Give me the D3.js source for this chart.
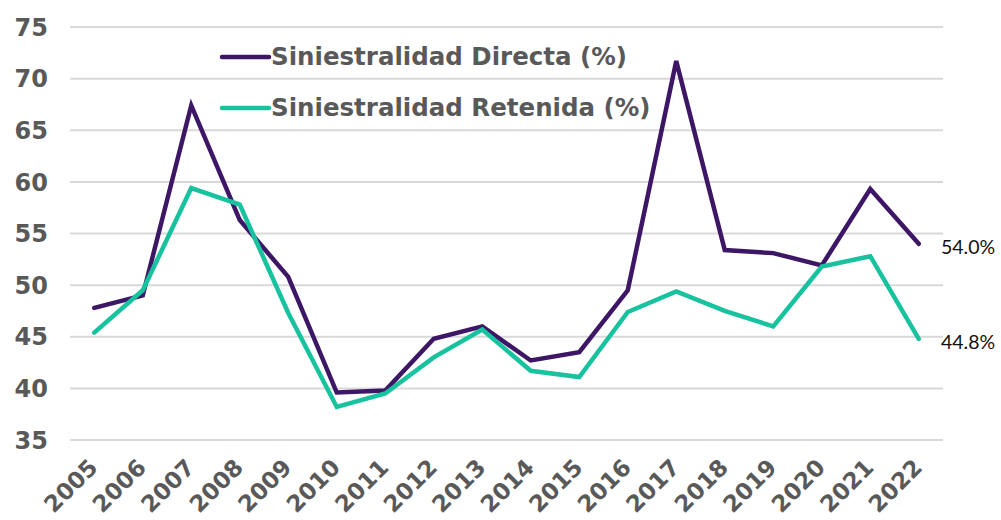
<!DOCTYPE html>
<html>
<head>
<meta charset="utf-8">
<script src="https://cdn.jsdelivr.net/npm/d3@7"></script>
<style>
  body { margin: 0; background: #fff; }
  .ylab, .xlab, .leg { font-family: "DejaVu Sans", sans-serif; font-weight: bold; fill: #595959; }
</style>
</head>
<body>
<script>
// Data
var years = ["2005","2006","2007","2008","2009","2010","2011","2012","2013","2014","2015","2016","2017","2018","2019","2020","2021","2022"];
var directa = [47.8, 49.0, 67.4, 56.3, 50.8, 39.6, 39.8, 44.8, 46.0, 42.7, 43.5, 49.5, 71.7, 53.4, 53.1, 51.9, 59.3, 54.0];
var retenida = [45.4, 49.5, 59.4, 57.8, 47.3, 38.2, 39.5, 43.0, 45.7, 41.7, 41.1, 47.4, 49.4, 47.5, 46.0, 51.8, 52.8, 44.8];
var yTicks = [35, 40, 45, 50, 55, 60, 65, 70, 75];
var seriesNames = ["Siniestralidad Directa (%)", "Siniestralidad Retenida (%)"];
var colors = ["#3d1766", "#17c29e"];

let w = 1001;
let h = 520;
let plotLeft = 70, plotRight = 943, plotTop = 27, plotBottom = 440;

var svg = d3.select("body")
  .append("svg")
  .attr("width", w)
  .attr("height", h);

let xScale = d3.scaleBand()
  .domain(years)
  .range([plotLeft, plotRight]);

let yScale = d3.scaleLinear()
  .domain([35, 75])
  .range([plotBottom, plotTop]);

// gridlines
svg.selectAll("line.grid")
  .data(yTicks)
  .enter()
  .append("line")
  .attr("class", "grid")
  .attr("x1", plotLeft)
  .attr("x2", plotRight)
  .attr("y1", function(d){ return yScale(d); })
  .attr("y2", function(d){ return yScale(d); })
  .attr("stroke", "#d9d9d9")
  .attr("stroke-width", 2);

// y labels
svg.selectAll("text.ylab")
  .data(yTicks)
  .enter()
  .append("text")
  .attr("class", "ylab")
  .attr("x", 48)
  .attr("y", function(d){ return yScale(d); })
  .attr("dy", "0.36em")
  .attr("text-anchor", "end")
  .attr("font-size", "24px")
  .text(function(d){ return d; });

// x labels, rotated
svg.selectAll("text.xlab")
  .data(years)
  .enter()
  .append("text")
  .attr("class", "xlab")
  .attr("transform", function(d){
    return "translate(" + (xScale(d) + xScale.bandwidth() / 2 - 1) + "," + 463 + ") rotate(-45)";
  })
  .attr("text-anchor", "end")
  .attr("dy", "0.36em")
  .attr("font-size", "23px")
  .text(function(d){ return d; });

// lines
let line = d3.line()
  .x(function(d, i){ return xScale(years[i]) + xScale.bandwidth() / 2; })
  .y(function(d){ return yScale(d); });

[directa, retenida].forEach(function(s, k){
  svg.append("path")
    .datum(s)
    .attr("d", line)
    .attr("fill", "none")
    .attr("stroke", colors[k])
    .attr("stroke-width", 4.5)
    .attr("stroke-linejoin", "miter")
    .attr("stroke-linecap", "round");
});

// end labels
[directa, retenida].forEach(function(s){
  var v = s[s.length - 1];
  svg.append("text")
    .attr("x", 941)
    .attr("y", yScale(v) + 3)
    .attr("dy", "0.36em")
    .attr("font-family", "Lato, sans-serif")
    .attr("font-size", "19.5px")
    .attr("fill", "#111")
    .text(v.toFixed(1) + "%");
});

// legend
seriesNames.forEach(function(name, k){
  var ly = 57 + k * 51;
  svg.append("line")
    .attr("x1", 222).attr("x2", 269)
    .attr("y1", ly).attr("y2", ly)
    .attr("stroke", colors[k])
    .attr("stroke-width", 4.5)
    .attr("stroke-linecap", "round");
  svg.append("text")
    .attr("class", "leg")
    .attr("x", 271)
    .attr("y", ly - 1)
    .attr("dy", "0.36em")
    .attr("font-size", "24.5px")
    .text(name);
});
</script>
</body>
</html>
